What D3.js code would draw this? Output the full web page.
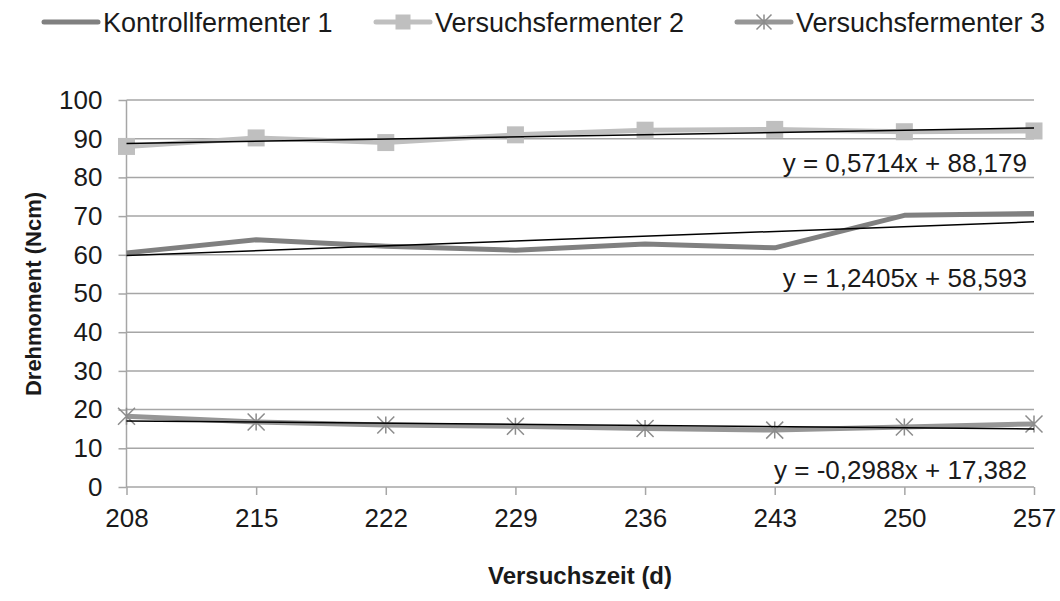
<!DOCTYPE html>
<html lang="de">
<head>
<meta charset="UTF-8">
<title>Drehmoment</title>
<script src="https://d3js.org/d3.v7.min.js"></script>
<style>
  body { margin: 0; background: #fff; }
  svg { display: block; font-family: 'Liberation Sans', Arial, sans-serif; }
  .grid line { stroke: #a6a6a6; stroke-width: 1.5; }
  .axis path, .axis line { stroke: #a6a6a6; stroke-width: 1.5; }
  .axis text { font-size: 26px; fill: #1a1a1a; font-family: 'Liberation Sans', Arial, sans-serif; }
  .title { font-size: 24px; font-weight: bold; fill: #1a1a1a; }
  .eq { font-size: 26px; fill: #1a1a1a; }
  .legend text { font-size: 27px; fill: #1a1a1a; }
</style>
</head>
<body>
<svg width="1060" height="601"></svg>
<script>
// Versuchszeit (d)
const days = [208, 215, 222, 229, 236, 243, 250, 257];
const yTicks = [0, 10, 20, 30, 40, 50, 60, 70, 80, 90, 100];

const kontroll1 = [60.5, 63.9, 62.2, 61.2, 62.8, 61.8, 70.2, 70.7];
const versuch2 = [88.0, 90.2, 89.0, 91.0, 92.2, 92.4, 91.8, 92.0];
const versuch3 = [18.3, 16.8, 16.0, 15.7, 15.1, 14.7, 15.5, 16.3];

// Trendlinien (x = Messpunkt-Index 1..8)
const trendSlope = [1.2405, 0.5714, -0.2988];
const trendIntercept = [58.593, 88.179, 17.382];
const trendLabels = ["y = 1,2405x + 58,593", "y = 0,5714x + 88,179", "y = -0,2988x + 17,382"];

const seriesNames = ["Kontrollfermenter 1", "Versuchsfermenter 2", "Versuchsfermenter 3"];
const seriesColors = ["#808080", "#bfbfbf", "#969696"];
const markerColors = [null, "#bfbfbf", "#8c8c8c"];
const markers = ["none", "square", "star"];
const seriesData = [kontroll1, versuch2, versuch3];

const svg = d3.select("svg");
const plotLeft = 126.5, plotRight = 1034, plotTop = 100, plotBottom = 487;

const x = d3.scalePoint().domain(days).range([plotLeft, plotRight]);
const y = d3.scaleLinear().domain([0, 100]).range([plotBottom, plotTop]);

// Gitternetz
svg.append("g").attr("class", "grid")
  .selectAll("line").data(yTicks.filter(d => d > 0)).enter()
  .append("line")
  .attr("x1", plotLeft).attr("x2", plotRight)
  .attr("y1", d => y(d)).attr("y2", d => y(d));

// Achsen
const yAxis = svg.append("g").attr("class", "axis")
  .attr("transform", `translate(${plotLeft},0)`)
  .call(d3.axisLeft(y).tickValues(yTicks).tickSize(8).tickPadding(16));
yAxis.select(".domain").attr("d", `M0,${plotBottom}V${plotTop}`);

const xAxis = svg.append("g").attr("class", "axis")
  .attr("transform", `translate(0,${plotBottom})`)
  .call(d3.axisBottom(x).tickSize(8).tickPadding(14));
xAxis.select(".domain").attr("d", `M${plotLeft},0H${plotRight}`);

// Achsentitel
svg.append("text").attr("class", "title")
  .attr("transform", "translate(41,294) rotate(-90)")
  .attr("text-anchor", "middle")
  .style("font-size", "22px")
  .text("Drehmoment (Ncm)");
svg.append("text").attr("class", "title")
  .attr("x", 580).attr("y", 584)
  .attr("text-anchor", "middle")
  .text("Versuchszeit (d)");

const line = d3.line().x((d, i) => x(days[i])).y(d => y(d));

function drawMarker(g, type, cx, cy, color, size) {
  const r = size / 2;
  if (type === "square") {
    g.append("rect").attr("x", cx - r).attr("y", cy - r)
      .attr("width", size).attr("height", size).attr("fill", color);
  } else if (type === "star") {
    const p = d3.path();
    p.moveTo(cx - r, cy - r); p.lineTo(cx + r, cy + r);
    p.moveTo(cx + r, cy - r); p.lineTo(cx - r, cy + r);
    p.moveTo(cx, cy - r); p.lineTo(cx, cy + r);
    g.append("path").attr("d", p.toString())
      .attr("stroke", color).attr("stroke-width", 1.5).attr("fill", "none");
  }
}

// Datenreihen
seriesData.forEach((vals, s) => {
  const g = svg.append("g");
  g.append("path").datum(vals)
    .attr("d", line)
    .attr("fill", "none")
    .attr("stroke", seriesColors[s])
    .attr("stroke-width", 5)
    .attr("stroke-linejoin", "round");
  vals.forEach((v, i) => drawMarker(g, markers[s], x(days[i]), y(v), markerColors[s], 17));
});

// Trendlinien
trendSlope.forEach((m, s) => {
  const b = trendIntercept[s];
  svg.append("line")
    .attr("x1", x(days[0])).attr("y1", y(m * 1 + b))
    .attr("x2", x(days[days.length - 1])).attr("y2", y(m * days.length + b))
    .attr("stroke", "#000").attr("stroke-width", 1.5);
});

const eqBaseline = [287, 172, 479];
trendLabels.forEach((t, s) => {
  svg.append("text").attr("class", "eq")
    .attr("x", 1027).attr("y", eqBaseline[s])
    .attr("text-anchor", "end")
    .text(t);
});

// Legende
const legX = [44, 376, 737];
const legend = svg.append("g").attr("class", "legend");
seriesNames.forEach((n, s) => {
  const lx = legX[s], ly = 22;
  legend.append("line")
    .attr("x1", lx).attr("x2", lx + 54).attr("y1", ly).attr("y2", ly)
    .attr("stroke", seriesColors[s]).attr("stroke-width", 5)
    .attr("stroke-linecap", "round");
  drawMarker(legend, markers[s], lx + 27, ly, markerColors[s], 15);
  legend.append("text").attr("x", lx + 59).attr("y", ly + 10).text(n);
});
</script>
</body>
</html>
